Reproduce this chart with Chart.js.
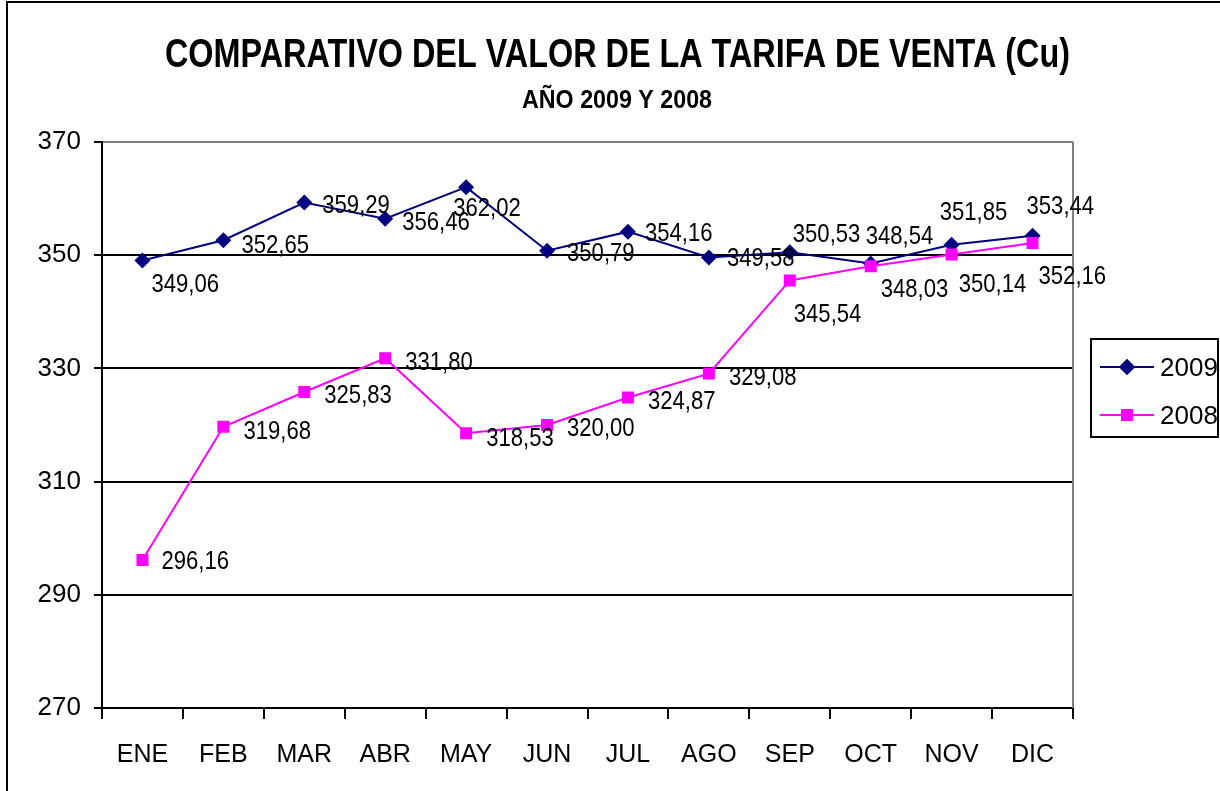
<!DOCTYPE html>
<html>
<head>
<meta charset="utf-8">
<script src="https://cdn.jsdelivr.net/npm/chart.js@4.4.1/dist/chart.umd.min.js"></script>
<style>
  html, body { margin: 0; padding: 0; background: #fff; }
  #wrap { width: 1220px; height: 791px; }
</style>
</head>
<body>
<div id="wrap"><canvas id="tarifaChart" width="1220" height="791"></canvas></div>
<script>
// data
const months = ['ENE', 'FEB', 'MAR', 'ABR', 'MAY', 'JUN', 'JUL', 'AGO', 'SEP', 'OCT', 'NOV', 'DIC'];
const values2009 = [349.06, 352.65, 359.29, 356.46, 362.02, 350.79, 354.16, 349.58, 350.53, 348.54, 351.85, 353.44];
const values2008 = [296.16, 319.68, 325.83, 331.80, 318.53, 320.00, 324.87, 329.08, 345.54, 348.03, 350.14, 352.16];
const yTicks = [270, 290, 310, 330, 350, 370];

const titleText = 'COMPARATIVO DEL VALOR DE LA TARIFA DE VENTA (Cu)';
const subtitleText = 'AÑO 2009 Y 2008';

// where each value label sits relative to its point (px)
const labelShift2009 = [[9, 22], [18, 3], [18, 1], [17, 2], [-13, 20], [20, 1], [17, 0], [18, -1], [3, -20], [-5, -29], [-12, -34], [-6, -31]];
const labelShift2008 = [[19, 0], [20, 3], [20, 2], [20, 2], [20, 3], [20, 2], [20, 2], [20, 2], [4, 32], [10, 21], [7, 28], [6, 32]];

const NAVY = '#000080';
const MAGENTA = '#FF00FF';

const fmt = v => v.toFixed(2).replace('.', ',');

// text squeezed horizontally like the original narrow font
function narrowText(ctx, text, x, y, sx, align) {
  ctx.save();
  ctx.translate(x, y);
  ctx.scale(sx, 1);
  ctx.textAlign = align || 'left';
  ctx.textBaseline = 'alphabetic';
  ctx.fillText(text, 0, 0);
  ctx.restore();
}

function fitText(ctx, text, cx, baseline, width) {
  const w = ctx.measureText(text).width;
  narrowText(ctx, text, cx, baseline, width / w, 'center');
}

const extras = {
  id: 'extras',
  afterDraw(chart) {
    const ctx = chart.ctx;
    const area = chart.chartArea;
    ctx.save();

    // outer frame
    ctx.strokeStyle = '#000';
    ctx.lineWidth = 2;
    ctx.strokeRect(7, 2, 1400, 1000);

    // right edge of plot area
    ctx.strokeStyle = '#808080';
    ctx.lineWidth = 2;
    ctx.beginPath();
    ctx.moveTo(area.right, area.top);
    ctx.lineTo(area.right, area.bottom);
    ctx.stroke();

    // titles
    ctx.fillStyle = '#000';
    ctx.font = 'bold 40px "Liberation Sans", Arial, sans-serif';
    fitText(ctx, titleText, 617.5, 67, 905);
    ctx.font = 'bold 25px "Liberation Sans", Arial, sans-serif';
    fitText(ctx, subtitleText, 617, 108, 190);

    // value labels
    ctx.font = '26px "Liberation Sans", Arial, sans-serif';
    const shifts = [labelShift2009, labelShift2008];
    chart.data.datasets.forEach((ds, i) => {
      const meta = chart.getDatasetMeta(i);
      meta.data.forEach((pt, j) => {
        const s = shifts[i][j];
        narrowText(ctx, fmt(ds.data[j]), pt.x + s[0], pt.y + s[1] + 9.3, 0.85, 'left');
      });
    });

    // legend
    ctx.strokeStyle = '#000';
    ctx.lineWidth = 2;
    ctx.strokeRect(1091, 339, 127, 98);
    const rows = [
      { name: '2009', color: NAVY, y: 367, style: 'rectRot', r: 8 },
      { name: '2008', color: MAGENTA, y: 415, style: 'rect', r: 8.5 }
    ];
    rows.forEach(row => {
      ctx.strokeStyle = row.color;
      ctx.lineWidth = 2;
      ctx.beginPath();
      ctx.moveTo(1100, row.y);
      ctx.lineTo(1154, row.y);
      ctx.stroke();
      ctx.fillStyle = row.color;
      Chart.helpers.drawPoint(ctx, { pointStyle: row.style, radius: row.r, rotation: 0, borderWidth: 0 }, 1127, row.y);
      ctx.fill();
      ctx.fillStyle = '#000';
      ctx.font = '26px "Liberation Sans", Arial, sans-serif';
      ctx.textAlign = 'left';
      ctx.textBaseline = 'alphabetic';
      ctx.fillText(row.name, 1160, row.y + 9.3);
    });

    ctx.restore();
  }
};

new Chart(document.getElementById('tarifaChart'), {
  type: 'line',
  data: {
    labels: months,
    datasets: [
      {
        label: '2009',
        data: values2009,
        borderColor: NAVY,
        backgroundColor: NAVY,
        borderWidth: 2,
        pointStyle: 'rectRot',
        pointRadius: 8,
        pointBorderWidth: 0,
        tension: 0,
        order: 2
      },
      {
        label: '2008',
        data: values2008,
        borderColor: MAGENTA,
        backgroundColor: MAGENTA,
        borderWidth: 2,
        pointStyle: 'rect',
        pointRadius: 8.5,
        pointBorderWidth: 0,
        tension: 0,
        order: 1
      }
    ]
  },
  options: {
    responsive: false,
    animation: false,
    events: [],
    layout: { padding: { top: 142, right: 147, left: 0, bottom: 0 } },
    plugins: {
      legend: { display: false },
      title: { display: false },
      tooltip: { enabled: false }
    },
    scales: {
      x: {
        offset: true,
        grid: { offset: true, drawOnChartArea: false, tickLength: 11, tickColor: '#000', lineWidth: 2 },
        border: { color: '#000', width: 2 },
        ticks: { color: '#000', font: { family: '"Liberation Sans", Arial, sans-serif', size: 25 }, padding: 21, maxRotation: 0 },
        afterFit: s => { s.height = 83; }
      },
      y: {
        min: 270,
        max: 370,
        afterBuildTicks: s => { s.ticks = yTicks.map(v => ({ value: v })); },
        grid: {
          color: c => (c.tick && c.tick.value === 370) ? '#808080' : '#000',
          lineWidth: 2,
          tickLength: 8,
          tickColor: '#000'
        },
        border: { color: '#000', width: 2 },
        ticks: { color: '#000', font: { family: '"Liberation Sans", Arial, sans-serif', size: 26 }, padding: 13 },
        afterFit: s => { s.width = 102; }
      }
    }
  },
  plugins: [extras]
});
</script>
</body>
</html>
